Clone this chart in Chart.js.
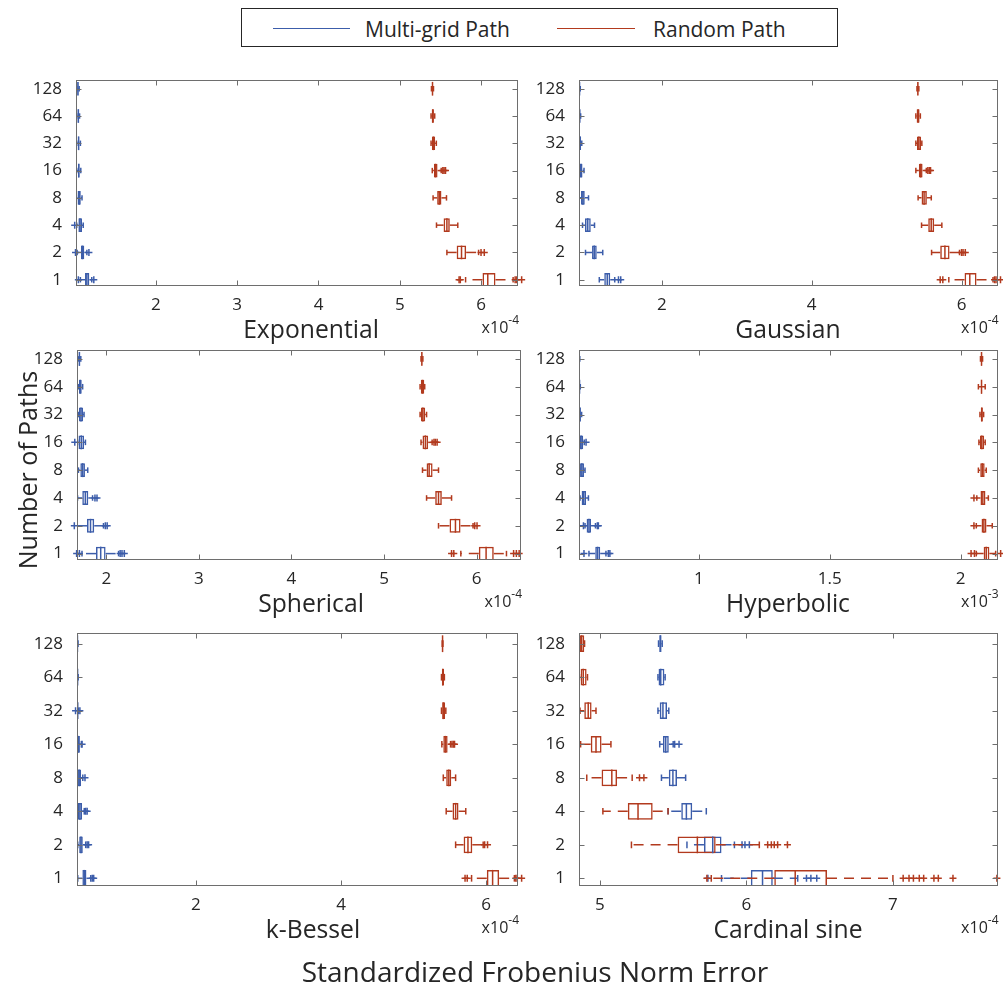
<!DOCTYPE html>
<html><head><meta charset="utf-8">
<script src="https://cdn.jsdelivr.net/npm/chart.js@4.4.1/dist/chart.umd.min.js"></script>
<style>
html,body{margin:0;padding:0;background:#fff;}
#wrap{position:relative;width:1003px;height:994px;overflow:hidden;font-family:'Open Sans',sans-serif;color:#262626;}
#wrap canvas{position:absolute;left:0;top:0;}
.lg{position:absolute;left:241px;top:8px;width:597px;height:39px;border:1px solid #262626;box-sizing:border-box;background:#fff;}
.lgline{position:absolute;height:0;border-top:1.5px solid;}
.lgtxt{position:absolute;font-size:21px;line-height:24px;white-space:nowrap;}
.ylab{position:absolute;left:-123px;top:455px;width:300px;height:30px;line-height:30px;text-align:center;font-size:25px;transform:rotate(-90deg);white-space:nowrap;}
.xlab{position:absolute;left:235px;top:954px;width:600px;height:34px;line-height:34px;text-align:center;font-size:28px;white-space:nowrap;}
</style></head>
<body>
<div id="wrap">
<canvas id="c0" width="1003" height="994"></canvas>
<canvas id="c1" width="1003" height="994"></canvas>
<canvas id="c2" width="1003" height="994"></canvas>
<canvas id="c3" width="1003" height="994"></canvas>
<canvas id="c4" width="1003" height="994"></canvas>
<canvas id="c5" width="1003" height="994"></canvas>
<div class="lg"></div>
<div class="lgline" style="left:273px;top:28px;width:77px;border-color:#3C5DAA"></div>
<div class="lgtxt" style="left:365px;top:17px">Multi-grid Path</div>
<div class="lgline" style="left:557px;top:28px;width:78px;border-color:#B23A1E"></div>
<div class="lgtxt" style="left:653px;top:17px">Random Path</div>
<div class="ylab">Number of Paths</div>
<div class="xlab">Standardized Frobenius Norm Error</div>
</div>
<script>
// ---------- data ----------
const categoryLabels = ['1','2','4','8','16','32','64','128'];
const seriesNames = ['Multi-grid Path','Random Path'];
const seriesColors = ['#3C5DAA','#B23A1E'];
const panelTitles = ['Exponential','Gaussian','Spherical','Hyperbolic','k-Bessel','Cardinal sine'];
const panelExponents = ['-4','-4','-4','-3','-4','-4'];
const panelXMin = [1.016, 0.893, 1.684, 0.542, 0.36, 4.857];
const panelXMax = [6.455, 6.48, 6.48, 2.141, 6.44, 7.714];
const panelXTicks = [[2,3,4,5,6],[2,4,6],[2,3,4,5,6],[1,1.5,2],[2,4,6],[5,6,7]];

// box stats per row (1,2,4,...,128): [lowWhisker, q1, median, q3, highWhisker]
const exponentialMG = [[1.07,1.127,1.15,1.18,1.21],[1.03,1.077,1.095,1.118,1.15],[1.025,1.045,1.065,1.09,1.105],[1.02,1.035,1.055,1.075,1.09],[1.025,1.04,1.05,1.06,1.075],[1.025,1.04,1.048,1.056,1.07],[1.025,1.035,1.045,1.05,1.06],[1.025,1.033,1.04,1.047,1.055]];
const exponentialMGOut = [[1.045,1.235],[1.01,1.175],[1.0],[],[],[],[],[]];
const exponentialRP = [[5.81,6.018,6.083,6.178,6.395],[5.58,5.70,5.76,5.817,5.97],[5.452,5.539,5.58,5.616,5.714],[5.41,5.46,5.486,5.513,5.575],[5.40,5.42,5.44,5.465,5.51],[5.385,5.395,5.415,5.435,5.45],[5.385,5.393,5.407,5.42,5.43],[5.39,5.397,5.403,5.41,5.415]];
const exponentialRPOut = [[5.73,5.745,6.42,6.44,6.50],[6.0,6.04],[],[],[5.53,5.545,5.563],[],[],[]];

const gaussianMG = [[1.164,1.23,1.27,1.31,1.37],[0.98,1.067,1.097,1.13,1.21],[0.94,0.973,1.01,1.05,1.10],[0.88,0.92,0.945,0.97,1.02],[0.89,0.90,0.92,0.94,0.96],[0.893,0.90,0.91,0.92,0.93],[0.893,0.897,0.903,0.91,0.915],[0.893,0.895,0.90,0.905,0.91]];
const gaussianMGOut = [[1.42,1.45],[],[],[],[],[],[],[]];
const gaussianRP = [[5.83,6.04,6.11,6.20,6.42],[5.60,5.715,5.778,5.84,5.973],[5.466,5.555,5.595,5.635,5.737],[5.42,5.466,5.50,5.537,5.596],[5.39,5.43,5.455,5.48,5.53],[5.39,5.405,5.43,5.46,5.47],[5.39,5.40,5.42,5.44,5.45],[5.405,5.41,5.417,5.423,5.43]];
const gaussianRPOut = [[5.715,5.75,6.44,6.46,6.52],[6.0,6.02,6.05],[],[],[5.55,5.57,5.586],[],[],[]];

const sphericalMG = [[1.738,1.889,1.94,1.993,2.133],[1.684,1.792,1.83,1.87,1.97],[1.69,1.741,1.774,1.806,1.852],[1.70,1.72,1.745,1.77,1.80],[1.69,1.70,1.73,1.76,1.775],[1.70,1.705,1.727,1.75,1.76],[1.70,1.705,1.72,1.735,1.745],[1.70,1.703,1.71,1.717,1.725]];
const sphericalMGOut = [[1.68,1.71,2.15,2.17,2.195],[1.655,1.99,2.01],[1.878,1.90],[],[1.66],[],[],[]];
const sphericalRP = [[5.83,6.024,6.103,6.186,6.323],[5.589,5.708,5.772,5.827,5.962],[5.46,5.553,5.589,5.625,5.73],[5.416,5.46,5.488,5.525,5.589],[5.40,5.416,5.447,5.477,5.52],[5.39,5.40,5.42,5.445,5.46],[5.39,5.398,5.416,5.435,5.44],[5.40,5.404,5.409,5.414,5.42]];
const sphericalRPOut = [[5.73,5.754,6.40,6.43,6.46],[5.98,6.005],[],[],[5.54,5.555,5.574],[],[],[]];

const hyperbolicMG = [[0.58,0.604,0.613,0.623,0.645],[0.565,0.571,0.58,0.588,0.605],[0.546,0.552,0.56,0.569,0.578],[0.545,0.546,0.553,0.561,0.565],[0.542,0.544,0.55,0.558,0.562],[0.542,0.543,0.546,0.549,0.552],[0.542,0.543,0.544,0.545,0.547],[0.542,0.5425,0.543,0.544,0.545]];
const hyperbolicMGOut = [[0.561,0.654,0.66],[0.559,0.612,0.616],[],[],[0.569],[],[],[]];
const hyperbolicRP = [[2.06,2.088,2.098,2.11,2.134],[2.06,2.08,2.089,2.099,2.121],[2.062,2.076,2.085,2.095,2.106],[2.068,2.075,2.083,2.092,2.098],[2.07,2.074,2.081,2.09,2.094],[2.074,2.077,2.081,2.085,2.088],[2.068,2.078,2.08,2.082,2.094],[2.076,2.078,2.08,2.082,2.084]];
const hyperbolicRPOut = [[2.04,2.053,2.153],[2.051],[2.051],[],[],[],[],[]];

const kBesselMG = [[0.37,0.434,0.46,0.49,0.55],[0.37,0.39,0.415,0.44,0.48],[0.36,0.37,0.40,0.43,0.46],[0.36,0.365,0.39,0.415,0.44],[0.36,0.362,0.38,0.40,0.42],[0.36,0.365,0.37,0.375,0.38],[0.36,0.363,0.368,0.372,0.376],[0.36,0.362,0.366,0.37,0.374]];
const kBesselMGOut = [[0.57,0.59],[0.50,0.52],[0.48,0.50],[0.47],[0.43],[0.34,0.40],[],[]];
const kBesselRP = [[5.80,6.01,6.09,6.18,6.39],[5.58,5.69,5.75,5.81,5.96],[5.45,5.537,5.58,5.62,5.72],[5.41,5.45,5.486,5.52,5.58],[5.39,5.41,5.44,5.47,5.51],[5.385,5.395,5.41,5.435,5.445],[5.385,5.39,5.403,5.42,5.425],[5.395,5.397,5.40,5.403,5.405]];
const kBesselRPOut = [[5.71,5.74,6.41,6.43,6.49],[5.98,6.02],[],[],[5.53,5.55,5.565],[],[],[]];

const cardinalSineMG = [[5.83,6.03,6.11,6.18,6.35],[5.594,5.71,5.77,5.83,5.918],[5.465,5.555,5.59,5.63,5.726],[5.42,5.47,5.498,5.526,5.585],[5.408,5.43,5.449,5.47,5.50],[5.396,5.408,5.43,5.458,5.47],[5.396,5.40,5.415,5.44,5.445],[5.40,5.405,5.413,5.42,5.425]];
const cardinalSineMGOut = [[5.737,6.41,6.44,6.48],[5.97,5.99,6.02],[],[],[5.51,5.54],[],[],[]];
const cardinalSineRP = [[5.76,6.19,6.333,6.55,7.0],[5.215,5.53,5.665,5.79,6.088],[5.02,5.19,5.26,5.36,5.465],[4.91,5.011,5.081,5.117,5.22],[4.868,4.937,4.973,5.011,5.075],[4.864,4.893,4.92,4.943,4.973],[4.86,4.868,4.886,4.909,4.915],[4.857,4.86,4.875,4.893,4.895]];
const cardinalSineRPOut = [[5.73,7.07,7.11,7.14,7.18,7.21,7.28,7.31,7.41,7.71],[6.145,6.17,6.19,6.213,6.28],[],[5.27,5.30],[],[],[],[]];

const panelBoxes = [
  [exponentialMG, exponentialRP],[gaussianMG, gaussianRP],[sphericalMG, sphericalRP],
  [hyperbolicMG, hyperbolicRP],[kBesselMG, kBesselRP],[cardinalSineMG, cardinalSineRP]];
const panelOutliers = [
  [exponentialMGOut, exponentialRPOut],[gaussianMGOut, gaussianRPOut],[sphericalMGOut, sphericalRPOut],
  [hyperbolicMGOut, hyperbolicRPOut],[kBesselMGOut, kBesselRPOut],[cardinalSineMGOut, cardinalSineRPOut]];

// ---------- layout (page px) ----------
const W = 1003, H = 994;
const panelRects = [ // left, top, right, bottom of plot area
  [76,80,518,286],[579,80,998,286],
  [77,350,521,560],[579,350,998,560],
  [77,633,518,886],[579,633,998,886]];
const titleCenters = [311, 788, 311, 788, 313, 788];
const Y_AXIS_W = 60, X_AXIS_H = 30;
const FONT = "'Open Sans', sans-serif";
const TXT = '#262626';

const decorPlugin = {
  id: 'decor',
  afterDatasetsDraw(chart) {
    const o = chart.options.plugins.decor;
    const {ctx, chartArea: a, scales: {x, y}} = chart;
    ctx.save();
    ctx.beginPath(); ctx.rect(a.left, a.top, a.right - a.left, a.bottom - a.top); ctx.clip();
    o.boxes.forEach((rows, s) => {
      ctx.strokeStyle = o.colors[s];
      ctx.lineWidth = 1.5;
      rows.forEach((st, i) => {
        const yc = y.getPixelForValue(i + 1);
        const half = Math.abs(y.getPixelForValue(i + 1.25) - yc);
        const cap = Math.abs(y.getPixelForValue(i + 1.1) - yc);
        const [lo, q1, md, q3, hi] = st.map(v => x.getPixelForValue(v));
        const seg = (x1, y1, x2, y2) => { ctx.beginPath(); ctx.moveTo(x1, y1); ctx.lineTo(x2, y2); ctx.stroke(); };
        ctx.setLineDash([10, 7]);
        seg(q3, yc, hi, yc); seg(q1, yc, lo, yc);
        ctx.setLineDash([]);
        seg(lo, yc - cap, lo, yc + cap); seg(hi, yc - cap, hi, yc + cap);
        seg(md, yc - half, md, yc + half);
      });
    });
    ctx.restore();
  },
  afterDraw(chart) {
    const o = chart.options.plugins.decor;
    const {ctx, chartArea: a, scales: {x, y}} = chart;
    ctx.save();
    ctx.strokeStyle = '#6e6e6e'; ctx.lineWidth = 1;
    const L = Math.round(a.left) + 0.5, R = Math.round(a.right) - 0.5, T = Math.round(a.top) + 0.5, B = Math.round(a.bottom) - 0.5;
    ctx.strokeRect(L, T, R - L, B - T);
    ctx.beginPath();
    x.ticks.forEach(t => { const px = Math.round(x.getPixelForValue(t.value)) + 0.5; ctx.moveTo(px, B); ctx.lineTo(px, B - 5); ctx.moveTo(px, T); ctx.lineTo(px, T + 5); });
    y.ticks.forEach(t => { const py = Math.round(y.getPixelForValue(t.value)) + 0.5; ctx.moveTo(L, py); ctx.lineTo(L + 5, py); ctx.moveTo(R, py); ctx.lineTo(R - 5, py); });
    ctx.stroke();
    ctx.fillStyle = TXT;
    ctx.font = '24.7px ' + FONT; ctx.textAlign = 'center'; ctx.textBaseline = 'alphabetic';
    ctx.fillText(o.title, o.titleX, a.bottom + 52);
    ctx.font = '12px ' + FONT; ctx.textAlign = 'right';
    const supW = ctx.measureText(o.exponent).width;
    ctx.fillText(o.exponent, a.right + 1, a.bottom + 38);
    ctx.font = '16px ' + FONT;
    ctx.fillText('x10', a.right + 1 - supW, a.bottom + 47);
    ctx.restore();
  }
};

panelRects.forEach((r, p) => {
  const [L, T, R, B] = r;
  const datasets = [];
  panelBoxes[p].forEach((rows, s) => {
    datasets.push({
      type: 'bar', label: seriesNames[s], indexAxis: 'y', grouped: false,
      data: rows.map((st, i) => ({x: [st[1], st[3]], y: i + 1})),
      borderColor: seriesColors[s], backgroundColor: 'rgba(0,0,0,0)', borderWidth: 1.5, borderSkipped: false,
      barPercentage: 0.5, categoryPercentage: 1, order: 2 - s
    });
    datasets.push({
      type: 'scatter', label: seriesNames[s] + ' outliers',
      data: panelOutliers[p][s].flatMap((vals, i) => vals.map(v => ({x: v, y: i + 1}))),
      pointStyle: 'cross', pointRadius: 3.5, borderColor: seriesColors[s], backgroundColor: seriesColors[s], borderWidth: 1.5,
      clip: false, order: 2 - s
    });
  });
  new Chart(document.getElementById('c' + p), {
    type: 'bar',
    data: {datasets},
    options: {
      responsive: false, animation: false, devicePixelRatio: 1,
      layout: {padding: {left: L - Y_AXIS_W, top: T, right: W - R, bottom: H - B - X_AXIS_H}},
      plugins: {legend: {display: false}, tooltip: {enabled: false},
        decor: {boxes: panelBoxes[p], colors: seriesColors, title: panelTitles[p], titleX: titleCenters[p], exponent: panelExponents[p]}},
      scales: {
        x: {type: 'linear', position: 'bottom', min: panelXMin[p], max: panelXMax[p], offset: false, bounds: 'data',
          grid: {display: false, drawTicks: false, offset: false}, border: {display: false},
          afterBuildTicks: sc => { sc.ticks = panelXTicks[p].map(v => ({value: v})); },
          afterFit: sc => { sc.height = X_AXIS_H; },
          ticks: {padding: 9, color: TXT, font: {size: 17, family: FONT}, maxRotation: 0, callback: v => String(v)}},
        y: {type: 'linear', position: 'left', min: 0.77, max: 8.32, offset: false, bounds: 'data',
          grid: {display: false, drawTicks: false, offset: false}, border: {display: false},
          afterBuildTicks: sc => { sc.ticks = categoryLabels.map((c, i) => ({value: i + 1})); },
          afterFit: sc => { sc.width = Y_AXIS_W; },
          ticks: {padding: 14, color: TXT, font: {size: 17, family: FONT}, callback: v => categoryLabels[Math.round(v) - 1]}}
      }
    },
    plugins: [decorPlugin]
  });
});
</script>
</body></html>
